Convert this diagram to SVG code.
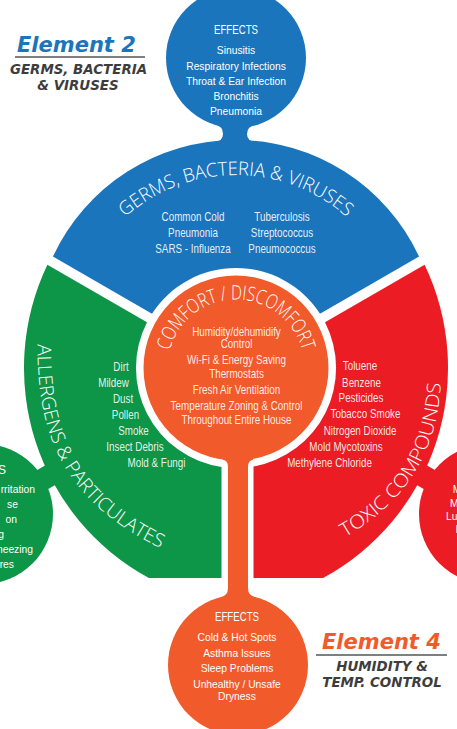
<svg xmlns="http://www.w3.org/2000/svg" width="457" height="729" viewBox="0 0 457 729">
<style>
.t{font-family:'Liberation Sans',Arial,sans-serif;fill:#fff;text-anchor:middle}
.e{font-size:10.3px}
.c{font-size:12px;fill-opacity:.9}
.arc{font-family:'Open Sans','Liberation Sans',sans-serif;font-weight:300;fill:#fff}
.fx{font-family:'Liberation Sans',Arial,sans-serif;font-size:12px;fill:#fff;text-anchor:middle}
.lbl{font-family:'DejaVu Sans',Verdana,sans-serif;font-weight:bold;font-style:italic}
.blue{fill:#1b75bc}.green{fill:#0d9548}.red{fill:#ec1c24}.orange{fill:#f15a2b}
.rule{stroke:#555;stroke-width:1.5}
</style>
<defs>
<path id="pBlue" d="M 79.1,284.9 A 167 167 0 0 1 392.9,284.9"/>
<path id="pComfort" d="M 168.54,379.9 A 68.5 68.5 0 1 1 303.46,379.9"/>
<path id="pGreen" d="M 38,320 C 34,420 50,500 175,555"/>
<path id="pRed" d="M 340,540 C 385,515 440,470 441,375"/>
</defs>

<g id="connectors">
<rect class="blue" x="223" y="118" width="24" height="28"/>
<path class="blue" d="M 223,134 Q 223,141.5 214,141.8 L 214,146 L 224,146 Z"/>
<path class="blue" d="M 247,134 Q 247,141.5 256,141.8 L 256,146 L 246,146 Z"/>
<path class="blue" d="M 223,134 Q 223,126 214,124.3 L 214,118 L 224,118 Z"/>
<path class="blue" d="M 247,134 Q 247,126 256,125 L 256,118 L 246,118 Z"/>
<rect class="orange" x="228" y="440" width="20" height="175"/>
<path class="orange" d="M 228,467 Q 228,460.5 223,459.8 L 223,452 L 229,452 Z"/>
<path class="orange" d="M 248,467 Q 248,460.5 253,459.8 L 253,452 L 247,452 Z"/>
<path class="orange" d="M 228,588 Q 228,596 220,597.5 L 220,604 L 229,604 Z"/>
<path class="orange" d="M 248,588 Q 248,596 256,597.5 L 256,604 L 247,604 Z"/>
<line x1="-17" y1="514" x2="95.6" y2="449" stroke="#0d9548" stroke-width="22"/>
<line x1="489" y1="514" x2="376.4" y2="449" stroke="#ec1c24" stroke-width="22"/>
</g>

<g id="sector-germs">
<path class="blue" d="M 52.9,256.6 A 202 202 0 0 1 419.1,256.6 L 320,313.7 A 100 100 0 0 0 152,313.7 Z"/>
<text class="arc" font-size="19"><textPath href="#pBlue" startOffset="50%" text-anchor="middle" textLength="242" lengthAdjust="spacingAndGlyphs">GERMS, BACTERIA &amp; VIRUSES</textPath></text>
<text class="t c" transform="translate(193,221) scale(.82,1)">Common Cold</text>
<text class="t c" transform="translate(193,237) scale(.82,1)">Pneumonia</text>
<text class="t c" transform="translate(193,252.7) scale(.82,1)">SARS - Influenza</text>
<text class="t c" transform="translate(282,221) scale(.82,1)">Tuberculosis</text>
<text class="t c" transform="translate(282,237) scale(.82,1)">Streptococcus</text>
<text class="t c" transform="translate(282,252.7) scale(.82,1)">Pneumococcus</text>
</g>

<g id="sector-allergens">
<path class="green" d="M 47.4,264.8 A 239 239 0 0 0 148.9,578 L 221.5,578 L 221.5,466.9 A 100 100 0 0 1 147,322.3 Z"/>
<text class="arc" font-size="19"><textPath href="#pGreen" startOffset="24" textLength="255" lengthAdjust="spacingAndGlyphs">ALLERGENS &amp; PARTICULATES</textPath></text>
<text class="t c" transform="translate(121,370.7) scale(.82,1)">Dirt</text>
<text class="t c" transform="translate(113.5,386.7) scale(.82,1)">Mildew</text>
<text class="t c" transform="translate(123,402.7) scale(.82,1)">Dust</text>
<text class="t c" transform="translate(125.5,418.5) scale(.82,1)">Pollen</text>
<text class="t c" transform="translate(133.5,435) scale(.82,1)">Smoke</text>
<text class="t c" transform="translate(135,451) scale(.82,1)">Insect Debris</text>
<text class="t c" transform="translate(156.5,467) scale(.82,1)">Mold &amp; Fungi</text>
</g>

<g id="sector-toxic">
<path class="red" d="M 424.6,264.8 A 239 239 0 0 1 323.1,578 L 253.5,578 L 253.5,466.5 A 100 100 0 0 0 325,322.3 Z"/>
<text class="arc" font-size="19"><textPath href="#pRed" startOffset="6" textLength="190" lengthAdjust="spacingAndGlyphs">TOXIC COMPOUNDS</textPath></text>
<text class="t c" transform="translate(360,370) scale(.82,1)">Toluene</text>
<text class="t c" transform="translate(361.5,386.7) scale(.82,1)">Benzene</text>
<text class="t c" transform="translate(361,402.3) scale(.82,1)">Pesticides</text>
<text class="t c" transform="translate(365.5,418.3) scale(.82,1)">Tobacco Smoke</text>
<text class="t c" transform="translate(360,435) scale(.82,1)">Nitrogen Dioxide</text>
<text class="t c" transform="translate(346,450.7) scale(.82,1)">Mold Mycotoxins</text>
<text class="t c" transform="translate(329.5,466.7) scale(.82,1)">Methylene Chloride</text>
</g>

<g id="center-comfort">
<circle class="orange" cx="236" cy="368" r="92.5"/>
<text class="arc" font-size="20"><textPath href="#pComfort" startOffset="50%" text-anchor="middle" textLength="180" lengthAdjust="spacingAndGlyphs">COMFORT / DISCOMFORT</textPath></text>
<text class="t c" transform="translate(236.5,335.7) scale(.82,1)">Humidity/dehumidify</text>
<text class="t c" transform="translate(236.5,348.3) scale(.82,1)">Control</text>
<text class="t c" transform="translate(236.5,364.3) scale(.82,1)">Wi-Fi &amp; Energy Saving</text>
<text class="t c" transform="translate(236.5,378.3) scale(.82,1)">Thermostats</text>
<text class="t c" transform="translate(236.5,394) scale(.82,1)">Fresh Air Ventilation</text>
<text class="t c" transform="translate(236.5,410) scale(.82,1)">Temperature Zoning &amp; Control</text>
<text class="t c" transform="translate(236.5,424) scale(.82,1)">Throughout Entire House</text>
</g>

<g id="effects-germs">
<circle class="blue" cx="236" cy="58" r="70"/>
<text class="fx" x="236" y="34" textLength="44" lengthAdjust="spacingAndGlyphs">EFFECTS</text>
<text class="t e" x="236" y="54">Sinusitis</text>
<text class="t e" x="236" y="69.5">Respiratory Infections</text>
<text class="t e" x="236" y="85">Throat &amp; Ear Infection</text>
<text class="t e" x="236" y="100">Bronchitis</text>
<text class="t e" x="236" y="115">Pneumonia</text>
</g>

<g id="effects-allergens">
<circle class="green" cx="-17" cy="514" r="70"/>
<text class="fx" x="6" y="474" style="text-anchor:end">S</text>
<text class="t e" x="35" y="493" style="text-anchor:end">rritation</text>
<text class="t e" x="18" y="508" style="text-anchor:end">se</text>
<text class="t e" x="17" y="523" style="text-anchor:end">on</text>
<text class="t e" x="4" y="538" style="text-anchor:end">g</text>
<text class="t e" x="33" y="553" style="text-anchor:end">neezing</text>
<text class="t e" x="14" y="568" style="text-anchor:end">res</text>
</g>

<g id="effects-toxic">
<circle class="red" cx="489" cy="514" r="70"/>
<text class="t e" x="452.7" y="493" style="text-anchor:start">M</text>
<text class="t e" x="450" y="507" style="text-anchor:start">M</text>
<text class="t e" x="446" y="520" style="text-anchor:start">Lu</text>
<text class="t e" x="455.5" y="533" style="text-anchor:start">I</text>
</g>

<g id="effects-comfort">
<circle class="orange" cx="238" cy="665" r="70"/>
<text class="fx" x="237" y="621" textLength="44" lengthAdjust="spacingAndGlyphs">EFFECTS</text>
<text class="t e" x="237" y="641">Cold &amp; Hot Spots</text>
<text class="t e" x="237" y="656.5">Asthma Issues</text>
<text class="t e" x="237" y="672">Sleep Problems</text>
<text class="t e" x="237" y="688">Unhealthy / Unsafe</text>
<text class="t e" x="237" y="699.5">Dryness</text>
</g>

<g id="label-element2">
<text class="lbl" x="17" y="52" font-size="21" fill="#1b75bc">Element 2</text>
<line class="rule" x1="15" y1="57" x2="145" y2="57"/>
<text class="lbl" x="78.5" y="73.5" font-size="13.4" fill="#3d3d3d" text-anchor="middle">GERMS, BACTERIA</text>
<text class="lbl" x="78" y="90" font-size="13.4" fill="#3d3d3d" text-anchor="middle">&amp; VIRUSES</text>
</g>

<g id="label-element4">
<text class="lbl" x="322" y="649" font-size="21" fill="#f15a2b">Element 4</text>
<line class="rule" x1="316" y1="655" x2="447" y2="655"/>
<text class="lbl" x="382" y="671" font-size="13.4" fill="#3d3d3d" text-anchor="middle">HUMIDITY &amp;</text>
<text class="lbl" x="382" y="687" font-size="13.4" fill="#3d3d3d" text-anchor="middle">TEMP. CONTROL</text>
</g>
</svg>
